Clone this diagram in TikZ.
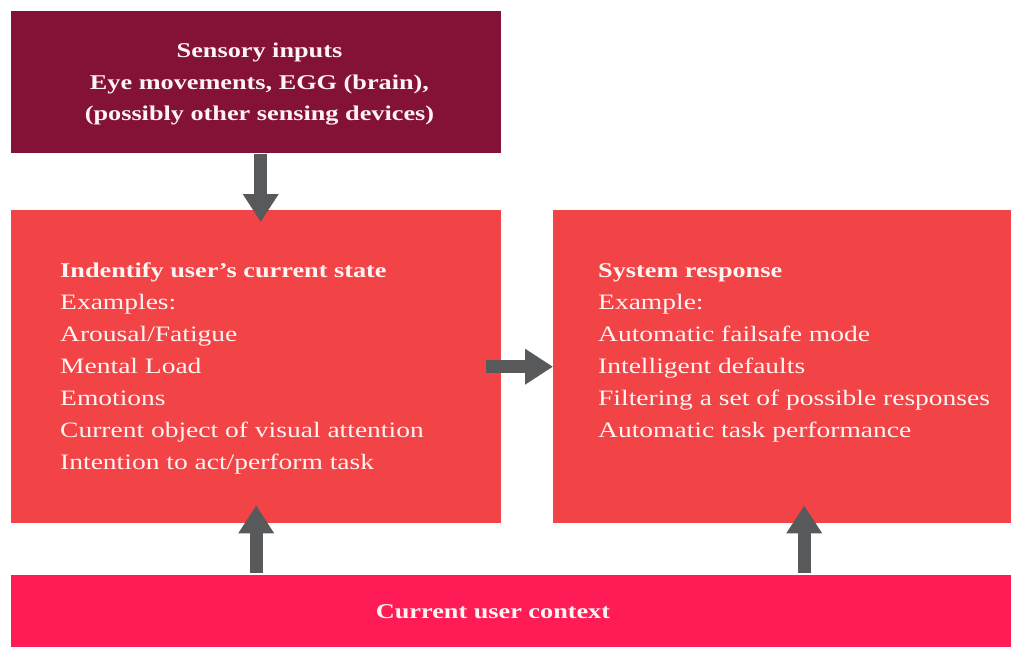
\documentclass[tikz,border=0pt]{standalone}
\usepackage{fontspec}
\setmainfont{Liberation Serif}[FakeStretch=1.25]
\usetikzlibrary{arrows.meta}

\definecolor{wine}{HTML}{841236}
\definecolor{coral}{HTML}{F24346}
\definecolor{rose}{HTML}{FF1B55}
\definecolor{slate}{HTML}{58595B}
\definecolor{paper}{HTML}{FFF4F2}

\begin{document}
\begin{tikzpicture}[x=1pt,y=-1pt,
    box/.style={fill=#1,draw=none,inner sep=0,anchor=north west},
    words/.style={text=paper,inner sep=0,font=\fontsize{22}{32}\selectfont},
    heavy/.style={words,font=\fontsize{21}{31.5}\selectfont\bfseries},
    fat/.style={draw=slate,line width=13pt,-{Triangle[width=34pt,length=28pt]}}]
  \useasboundingbox (0,0) rectangle (1011,648);

  % the four blocks
  \node[box=wine,minimum width=490pt,minimum height=142pt] (inputs) at (11,11) {};
  \node[box=coral,minimum width=490pt,minimum height=313pt] (state) at (11,210) {};
  \node[box=coral,minimum width=458pt,minimum height=313pt] (response) at (553,210) {};
  \node[box=rose,minimum width=1000pt,minimum height=72pt] (context) at (11,575) {};

  % their texts
  \node[heavy,align=center,anchor=north] (inputstext) at (259.5,43)
    {Sensory inputs\\Eye movements, EGG (brain),\\(possibly other sensing devices)};
  \node[words,align=left,anchor=north west] (statetext) at (60,263)
    {{\fontsize{21}{32}\selectfont\bfseries Indentify user’s current state}\\Examples:\\Arousal/Fatigue\\Mental Load\\Emotions\\
     Current object of visual attention\\Intention to act/perform task};
  \node[words,align=left,anchor=north west] (responsetext) at (598,263)
    {{\fontsize{21}{32}\selectfont\bfseries System response}\\Example:\\Automatic failsafe mode\\Intelligent defaults\\
     Filtering a set of possible responses\\Automatic task performance};
  \node[heavy] (contexttext) at (493,612) {Current user context};

  % arrows between the blocks
  \draw[fat] ([xshift=4.5pt,yshift=-1pt]inputs.south) -- ([xshift=4.5pt,yshift=-12pt]state.north);
  \draw[fat] ([xshift=-15pt]state.east) -- (response.west);
  \draw[fat] ([yshift=2pt]state.south |- context.north) -- ([yshift=18pt]state.south);
  \draw[fat] ([xshift=22pt,yshift=2pt]response.south |- context.north) -- ([xshift=22pt,yshift=18pt]response.south);
\end{tikzpicture}
\end{document}
